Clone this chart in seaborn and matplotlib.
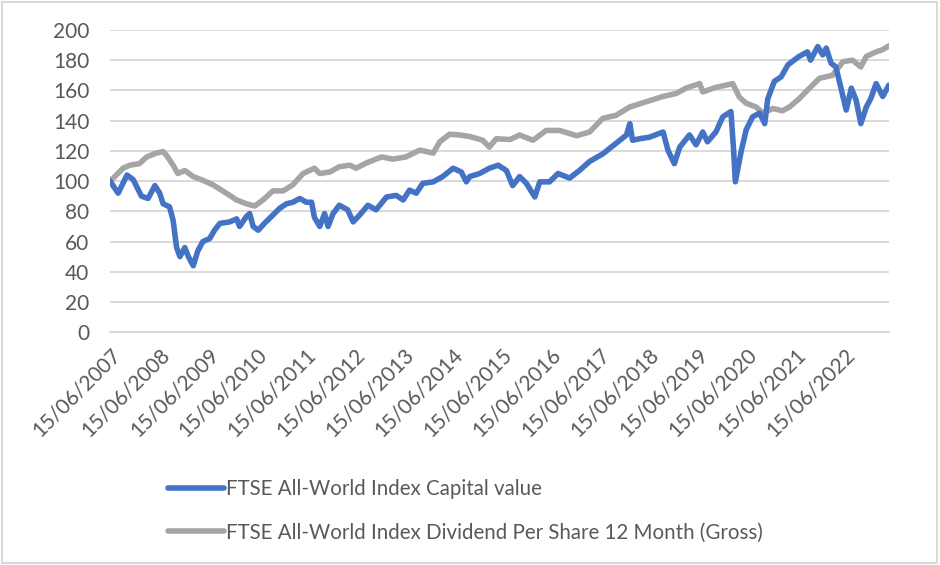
import numpy as np
import pandas as pd
import matplotlib.pyplot as plt
import matplotlib.dates as mdates
from matplotlib.patches import Rectangle
import seaborn as sns

# values (rebased to 100 at 15/06/2007)
capital_dates = [
    "2007-06-15", "2007-08-15", "2007-10-20", "2007-12-05", "2008-02-05", "2008-03-25",
    "2008-05-15", "2008-06-20", "2008-07-15", "2008-09-01", "2008-09-28", "2008-10-24",
    "2008-11-18", "2008-12-24", "2009-01-20", "2009-02-25", "2009-04-01", "2009-05-08",
    "2009-06-28", "2009-08-03", "2009-09-12", "2009-11-24", "2010-01-15", "2010-02-06",
    "2010-03-28", "2010-04-22", "2010-05-18", "2010-06-25", "2010-08-10", "2010-10-12",
    "2010-12-02", "2011-01-22", "2011-03-10", "2011-05-01", "2011-06-18", "2011-07-28",
    "2011-08-18", "2011-09-27", "2011-11-02", "2011-11-28", "2012-01-04", "2012-02-20",
    "2012-04-22", "2012-06-02", "2012-07-20", "2012-09-20", "2012-11-20", "2013-02-06",
    "2013-04-20", "2013-06-10", "2013-07-27", "2013-09-16", "2013-11-03", "2014-01-20",
    "2014-04-01", "2014-06-18", "2014-08-18", "2014-09-24", "2014-10-20", "2015-01-01",
    "2015-03-15", "2015-05-20", "2015-07-20", "2015-09-05", "2015-10-27", "2015-12-16",
    "2016-02-17", "2016-03-25", "2016-06-06", "2016-08-08", "2016-11-03", "2017-01-15",
    "2017-04-01", "2017-07-08", "2017-10-15", "2018-01-01", "2018-01-26", "2018-02-15",
    "2018-04-08", "2018-06-20", "2018-10-01", "2018-11-06", "2018-12-24", "2019-02-02",
    "2019-04-16", "2019-06-04", "2019-07-24", "2019-08-28", "2019-10-30", "2019-12-20",
    "2020-02-19", "2020-03-10", "2020-03-23", "2020-05-05", "2020-06-12", "2020-07-30",
    "2020-09-20", "2020-10-28", "2020-11-20", "2021-01-08", "2021-02-28", "2021-04-20",
    "2021-07-12", "2021-09-12", "2021-10-05", "2021-11-28", "2022-01-04", "2022-01-30",
    "2022-03-07", "2022-04-12", "2022-05-08", "2022-06-28", "2022-08-05", "2022-09-10",
    "2022-10-15", "2022-11-25", "2022-12-28", "2023-02-06", "2023-03-28", "2023-05-12",
]
capital_values = [
    100, 92, 104, 101, 90, 88.5,
    97, 92, 85, 83, 74, 56,
    50, 56, 50, 44, 54, 60,
    62, 67.5, 72, 73, 75, 70,
    76.5, 78.5, 70, 67.5, 72, 77.5,
    82, 85, 86, 88.5, 86, 86,
    76, 70, 78.5, 70, 78.5, 84,
    81, 73, 77.5, 84, 81, 89.5,
    90.5, 87.5, 94, 92, 98.5, 99.5,
    103, 108.5, 106, 99.5, 103, 105,
    108.5, 110.5, 107, 97, 103, 98.5,
    89.5, 99.5, 99.5, 105, 102, 107,
    113, 118, 125, 130.5, 138, 127,
    128, 129, 132.5, 120.5, 111.5, 122.5,
    130.5, 124, 132.5, 126, 132.5, 142.5,
    146, 120.5, 99.5, 119.5, 134, 142.5,
    145, 138, 154.5, 166, 169, 177,
    182.5, 185.5, 180, 189, 183.5, 188,
    178, 175.5, 166, 147, 161.5, 153.5,
    138, 149, 154.5, 164.5, 156, 163.5,
]

dividend_dates = [
    "2007-06-15", "2007-07-10", "2007-09-20", "2007-11-10", "2008-01-20", "2008-03-15",
    "2008-05-25", "2008-07-15", "2008-08-10", "2008-09-28", "2008-11-02", "2008-12-24",
    "2009-02-25", "2009-05-08", "2009-07-22", "2009-10-30", "2010-01-15", "2010-03-28",
    "2010-05-30", "2010-07-30", "2010-10-12", "2010-12-28", "2011-03-10", "2011-05-25",
    "2011-08-18", "2011-09-27", "2011-12-10", "2012-02-20", "2012-05-08", "2012-06-25",
    "2012-09-08", "2013-01-01", "2013-03-25", "2013-07-01", "2013-10-12", "2014-01-20",
    "2014-03-10", "2014-05-22", "2014-08-05", "2014-10-20", "2015-01-25", "2015-03-15",
    "2015-05-05", "2015-08-15", "2015-10-27", "2016-02-03", "2016-05-12", "2016-08-20",
    "2016-12-25", "2017-04-01", "2017-07-08", "2017-10-15", "2018-01-25", "2018-05-28",
    "2018-10-01", "2019-01-08", "2019-03-20", "2019-07-01", "2019-07-24", "2019-10-30",
    "2020-01-15", "2020-03-03", "2020-04-22", "2020-06-12", "2020-08-25", "2020-10-15",
    "2020-12-28", "2021-03-10", "2021-04-30", "2021-07-12", "2021-09-28", "2021-12-10",
    "2022-03-18", "2022-06-03", "2022-08-15", "2022-10-15", "2022-11-25", "2023-02-06",
    "2023-03-28", "2023-05-12",
]
dividend_values = [
    100, 102, 108.5, 110.5, 111.5, 116,
    118.5, 119.5, 117, 110.5, 105, 107,
    103, 100.5, 97.5, 92, 87.5, 85,
    83.5, 87.5, 93.5, 93.5, 97.5, 105,
    108.5, 105, 106, 109.5, 110.5, 108.5,
    112, 116, 114.5, 116, 120.5, 118.5,
    126, 131, 130.5, 129.5, 127, 122.5,
    128, 127.5, 130.5, 127, 133.5, 133.5,
    130, 132.5, 141.5, 143.5, 149, 152.5,
    156, 158, 161.5, 164.5, 159, 162,
    163.5, 164.5, 155.5, 151.5, 149, 145,
    148, 146.5, 149, 154.5, 161.5, 168,
    170, 179, 180, 175.5, 182.5, 185.5,
    187, 189.5,
]

tick_years = list(range(2007, 2023))
blue = "#4472C4"
grey = "#A5A5A5"
text_col = "#595959"
grid_col = "#D9D9D9"

cap_df = pd.DataFrame({"date": pd.to_datetime(capital_dates), "value": capital_values})
div_df = pd.DataFrame({"date": pd.to_datetime(dividend_dates), "value": dividend_values})

sns.set_style("white")
plt.rcParams["font.family"] = ["Lato", "DejaVu Sans"]

fig = plt.figure(figsize=(9.4, 5.65), dpi=100)
ax = fig.add_axes([0.117, 0.412, 0.829, 0.535])

sns.lineplot(data=cap_df, x="date", y="value", color=blue, linewidth=4, ax=ax,
             label="FTSE All-World Index Capital value")
sns.lineplot(data=div_df, x="date", y="value", color=grey, linewidth=4, ax=ax,
             label="FTSE All-World Index Dividend Per Share 12 Month (Gross)")
# blue line sits on top in the reference
ax.lines[0].set_zorder(3)

ax.set_ylim(0, 200)
ax.set_yticks(range(0, 201, 20))
ax.set_xlim(pd.Timestamp("2007-06-15"), pd.Timestamp("2023-05-15"))
ticks = [pd.Timestamp(f"{y}-06-15") for y in tick_years]
ax.set_xticks(ticks)
ax.set_xticklabels([t.strftime("%d/%m/%Y") for t in ticks], rotation=45,
                   ha="right", va="top", rotation_mode="anchor")
ax.yaxis.grid(True, color=grid_col, linewidth=1.4)
ax.set_axisbelow(True)
ax.set_xlabel("")
ax.set_ylabel("")
for side in ["top", "right", "left"]:
    ax.spines[side].set_visible(False)
ax.spines["bottom"].set_color(grid_col)
ax.spines["bottom"].set_linewidth(1.4)
ax.tick_params(axis="x", colors=text_col, labelsize=15, length=6, width=1.2,
               color=grid_col, direction="out", pad=3)
ax.tick_params(axis="y", colors=text_col, labelsize=15, length=0, pad=15)

handles, labels = ax.get_legend_handles_labels()
ax.get_legend().remove()
fig.legend(handles, labels, loc="upper left", bbox_to_anchor=(0.170, 0.166),
           frameon=False, fontsize=14.8, labelcolor=text_col, handlelength=2.7,
           handletextpad=0.1, labelspacing=1.12, borderaxespad=0)

fig.patches.append(Rectangle((0.002, 0.003), 0.995, 0.993, transform=fig.transFigure,
                             fill=False, edgecolor=grid_col, linewidth=1.5))

fig.savefig("out.png", dpi=100)
